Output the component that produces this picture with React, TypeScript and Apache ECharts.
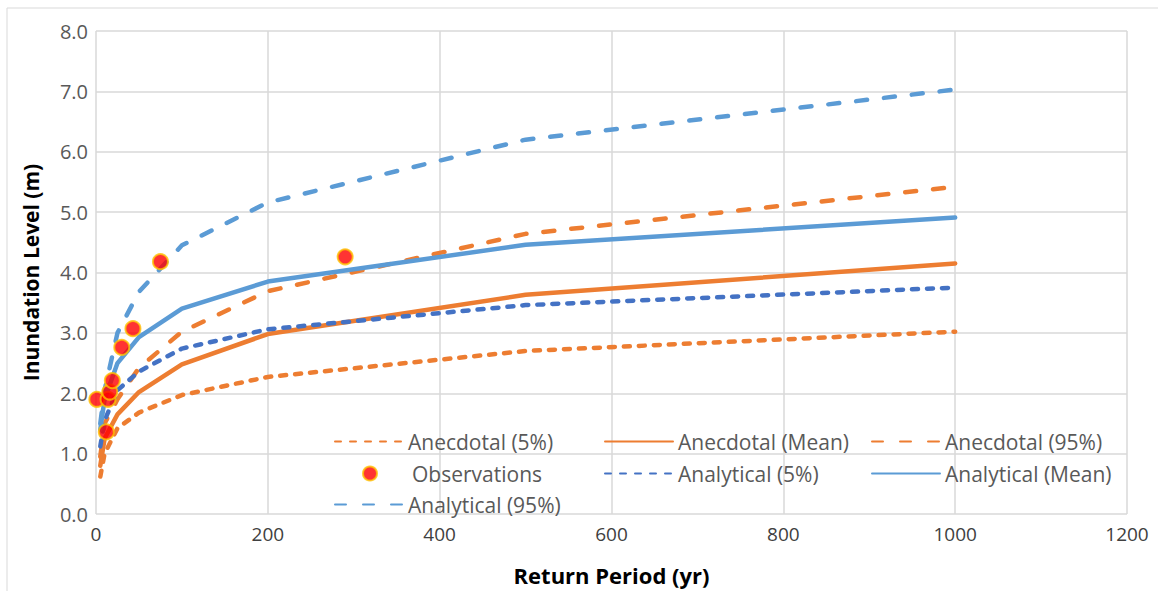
import React, { useEffect, useRef } from "react";
import * as echarts from "echarts";

const returnPeriods = [5, 10, 25, 50, 100, 200, 500, 1000];
const anecdotal5 = [0.62, 1.0, 1.42, 1.68, 1.97, 2.27, 2.7, 3.02];
const anecdotalMean = [0.8, 1.25, 1.65, 2.02, 2.48, 2.98, 3.63, 4.15];
const anecdotal95 = [0.95, 1.5, 1.9, 2.42, 3.02, 3.69, 4.64, 5.42];
const analytical5 = [1.12, 1.55, 2.05, 2.36, 2.74, 3.06, 3.46, 3.75];
const analyticalMean = [1.4, 1.9, 2.5, 2.93, 3.4, 3.85, 4.46, 4.91];
const analytical95 = [1.5, 2.05, 3.0, 3.68, 4.45, 5.16, 6.2, 7.03];

const obsPeriods = [1, 12, 14, 16, 19, 30, 43, 75, 290];
const obsLevels = [1.9, 1.36, 1.9, 2.02, 2.21, 2.76, 3.07, 4.18, 4.26];

const ORANGE = "#ED7D31";
const LBLUE = "#5B9BD5";
const DBLUE = "#4472C4";
const SHORT = [6, 9];
const LONG = [11, 17];

const FONT = "Open Sans";

function pairs(xs: number[], ys: number[]) {
  return xs.map((x, i) => [x, ys[i]]);
}

export default function App() {
  const ref = useRef<HTMLDivElement>(null);
  useEffect(() => {
    if (!ref.current) return;
    const chart = echarts.init(ref.current, null, { renderer: "svg" });
    const lineSeries = (name: string, ys: number[], color: string, dash: any) => ({
      name,
      type: "line",
      data: pairs(returnPeriods, ys),
      symbol: "none",
      showSymbol: false,
      lineStyle: { color, width: 4.5, type: dash, cap: "round" },
      itemStyle: { color },
      z: 2,
    });
    const legendItem = (name: string, left: number, top: number) => ({
      data: [name],
      left,
      top,
      itemWidth: 68,
      itemHeight: 14,
      itemGap: 0,
      itemStyle: { opacity: 0 },
      textStyle: { fontFamily: FONT, fontSize: 21, color: "#595959", padding: [0, 0, 0, 0] },
      padding: 0,
    });
    const col = [334, 604, 871];
    const row = [431, 463, 494];
    chart.setOption({
      animation: false,
      graphic: [
        {
          type: "rect",
          shape: { x: 7, y: 8, width: 1170, height: 620 },
          style: { fill: "none", stroke: "#d9d9d9", lineWidth: 1 },
          silent: true,
        },
      ],
      grid: { left: 96, right: 31, top: 31, bottom: 76 },
      xAxis: {
        type: "value",
        min: 0,
        max: 1200,
        interval: 200,
        name: "Return Period (yr)",
        nameLocation: "middle",
        nameGap: 50,
        nameTextStyle: { fontFamily: FONT, fontSize: 22, fontWeight: "bold", color: "#000" },
        axisLine: { show: false },
        axisTick: { show: false },
        axisLabel: {
          fontFamily: FONT,
          fontSize: 19,
          color: "#404040",
          margin: 10,
          formatter: (v: number) => String(v),
        },
        splitLine: { show: true, lineStyle: { color: "#d9d9d9", width: 1.5 } },
      },
      yAxis: {
        type: "value",
        min: 0,
        max: 8,
        interval: 1,
        name: "Inundation Level (m)",
        nameLocation: "middle",
        nameGap: 55,
        nameTextStyle: { fontFamily: FONT, fontSize: 21, fontWeight: "bold", color: "#000" },
        axisLine: { show: false },
        axisTick: { show: false },
        axisLabel: {
          fontFamily: FONT,
          fontSize: 20,
          color: "#595959",
          margin: 8,
          formatter: (v: number) => v.toFixed(1),
        },
        splitLine: { show: true, lineStyle: { color: "#d9d9d9", width: 1.5 } },
      },
      legend: [
        legendItem("Anecdotal (5%)", col[0], row[0]),
        legendItem("Anecdotal (Mean)", col[1], row[0]),
        legendItem("Anecdotal (95%)", col[2], row[0]),
        {
          data: ["Observations"],
          left: 362,
          top: row[1],
          itemWidth: 14,
          itemHeight: 14,
          textStyle: { fontFamily: FONT, fontSize: 21, color: "#595959", padding: [0, 0, 0, 30] },
          padding: 0,
        },
        legendItem("Analytical (5%)", col[1], row[1]),
        legendItem("Analytical (Mean)", col[2], row[1]),
        legendItem("Analytical (95%)", col[0], row[2]),
      ],
      series: [
        lineSeries("Anecdotal (5%)", anecdotal5, ORANGE, SHORT),
        lineSeries("Anecdotal (Mean)", anecdotalMean, ORANGE, "solid"),
        lineSeries("Anecdotal (95%)", anecdotal95, ORANGE, LONG),
        {
          name: "Observations",
          type: "scatter",
          data: pairs(obsPeriods, obsLevels),
          symbol: "circle",
          symbolSize: 15,
          itemStyle: { color: "#FF0000", borderColor: "#FFC000", borderWidth: 2 },
          z: 5,
        },
        lineSeries("Analytical (5%)", analytical5, DBLUE, SHORT),
        lineSeries("Analytical (Mean)", analyticalMean, LBLUE, "solid"),
        lineSeries("Analytical (95%)", analytical95, LBLUE, LONG),
      ],
    });
    return () => chart.dispose();
  }, []);
  return (
    <div
      ref={ref}
      style={{ position: "fixed", left: 0, top: 0, width: 1158, height: 591, background: "#fff" }}
    />
  );
}
